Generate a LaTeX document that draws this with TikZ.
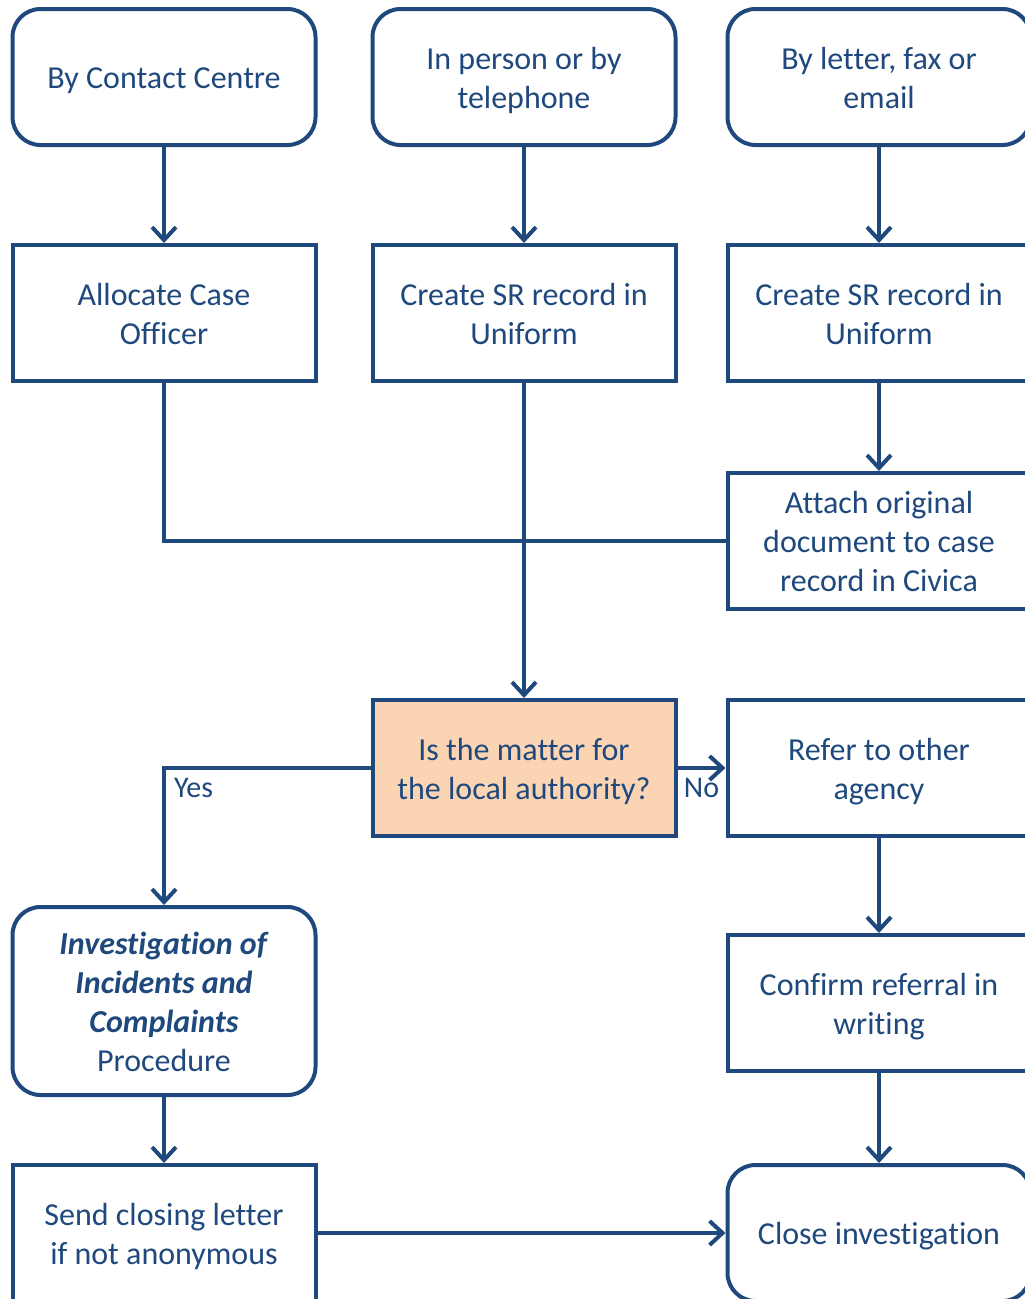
\documentclass[tikz,border=0pt]{standalone}
\usepackage{fontspec}
\setmainfont{Carlito}[Ligatures=NoCommon]
\usetikzlibrary{positioning,arrows.meta}
\definecolor{FlowBlue}{HTML}{1F497D}
\definecolor{FlowPeach}{HTML}{FBD4B4}

\begin{document}
\begin{tikzpicture}[
      x=1pt, y=-1pt,
      every node/.style={align=center, text=FlowBlue, font=\fontsize{32}{39}\selectfont},
      boxtext/.style={text width=290pt, align=flush center, execute at begin node={\rule{0pt}{0.98em}}, execute at end node={\rule[-0.25em]{0pt}{0pt}}},
      source/.style={boxtext, draw=FlowBlue, line width=4pt, rounded corners=28pt, minimum width=303pt, minimum height=136pt},
      task/.style={boxtext, draw=FlowBlue, line width=4pt, minimum width=303pt, minimum height=136pt},
      decision/.style={task, fill=FlowPeach},
      answer/.style={font=\fontsize{30}{36}\selectfont, inner sep=8pt},
      arrow/.style={line width=4pt, FlowBlue, -{Straight Barb[length=13pt,width=24pt,line width=4pt]}},
      link/.style={line width=4pt, FlowBlue}
    ]
      \useasboundingbox (0,0) rectangle (1025,1299);

      \node[source] (contact) at (164,77) {By Contact Centre};
      \node[source, right=53pt of contact] (person) {In person or by\\telephone};
      \node[source, right=48pt of person] (letter) {By letter, fax or\\email};

      \node[task, below=96pt of contact] (allocate) {Allocate Case\\Officer};
      \node[task, below=96pt of person] (uniformA) {Create SR record in\\Uniform};
      \node[task, below=96pt of letter] (uniformB) {Create SR record in\\Uniform};
      \node[task, below=88pt of uniformB] (attach) {Attach original\\document to case\\record in Civica};

      \node[task, below=87pt of attach] (refer) {Refer to other\\agency};
      \node[decision, left=48pt of refer] (matter) {Is the matter for\\the local authority?};
      \node[task, below=95pt of refer] (confirm) {Confirm referral in\\writing};
      \node[source, below=90pt of confirm] (close) {Close investigation};

      \node[source, minimum height=188pt, below=522pt of allocate] (procedure)
        {\textbf{\textit{Investigation of}}\\\textbf{\textit{Incidents and}}\\\textbf{\textit{Complaints}}\\Procedure};
      \node[task, below=66pt of procedure] (closing) {Send closing letter\\if not anonymous};

      \draw[arrow] (contact) -- (allocate);
      \draw[arrow] (person) -- (uniformA);
      \draw[arrow] (letter) -- (uniformB);
      \draw[arrow] (uniformB) -- (attach);

      % merge into the decision
      \draw[link] (allocate.south) |- (attach.west);
      \draw[arrow] (uniformA) -- (matter);

      \draw[arrow] (matter.west) -| node[answer, pos=0.5, below right] {Yes} (procedure.north);
      \draw[arrow] (matter) -- node[answer, below] {No} (refer);
      \draw[arrow] (refer) -- (confirm);
      \draw[arrow] (confirm) -- (close);
      \draw[arrow] (procedure) -- (closing);
      \draw[arrow] (closing) -- (closing -| close.west);

    \end{tikzpicture}
\end{document}
